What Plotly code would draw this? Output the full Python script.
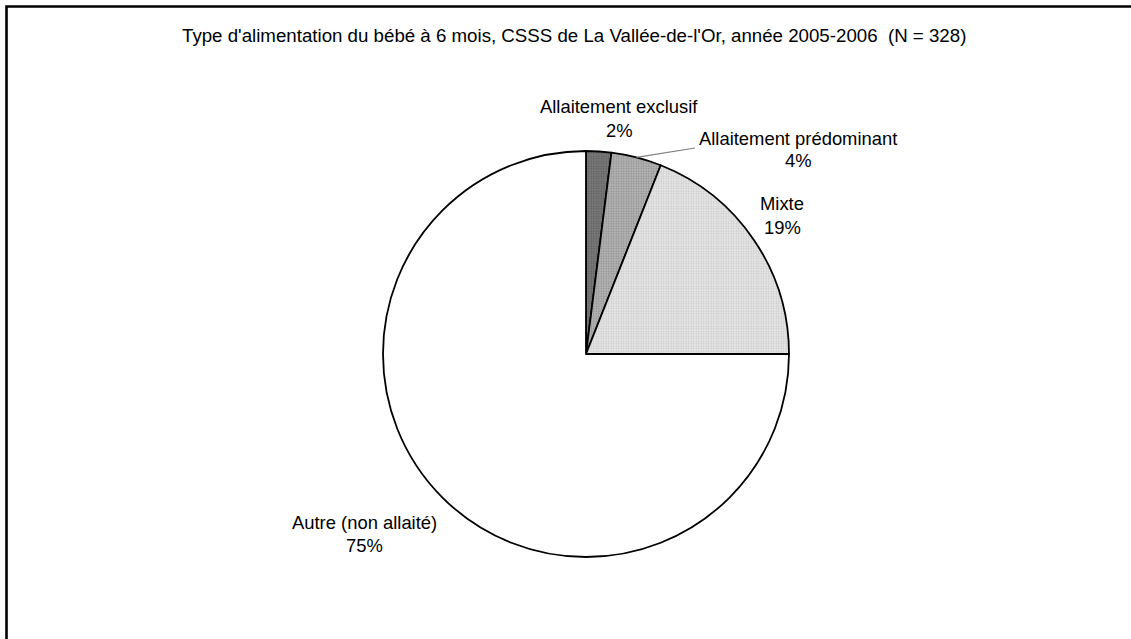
import math
import plotly.graph_objects as go

# ---- data ----
categories = ["Allaitement exclusif", "Allaitement prédominant", "Mixte", "Autre (non allaité)"]
percents = [2, 4, 19, 75]
title_text = "Type d'alimentation du bébé à 6 mois, CSSS de La Vallée-de-l'Or, année 2005-2006  (N = 328)"

# ---- styles ----
fill_colors = ["#7a7a7a", "#b4b4b4", "#e6e6e6", "#ffffff"]
fg_colors = ["#5a5a5a", "#8c8c8c", "#c6c6c6", "#ffffff"]

W, H = 1131, 639
FONT = "Liberation Sans, Arial, sans-serif"


def px(x):
    return x / W


def py(y):
    return 1 - y / H


# pie geometry (page pixels)
cx, cy, r = 586, 354, 203

fig = go.Figure()
fig.add_trace(go.Pie(
    labels=categories,
    values=percents,
    sort=False,
    direction="clockwise",
    rotation=0,
    textinfo="none",
    hoverinfo="label+percent",
    showlegend=False,
    marker=dict(
        colors=fill_colors,
        line=dict(color="#000000", width=1.8),
        pattern=dict(shape=[".", ".", ".", ""], size=2.5, solidity=0.3,
                     fgcolor=fg_colors, bgcolor=fill_colors, fillmode="replace"),
    ),
    domain=dict(x=[px(cx - r), px(cx + r)], y=[py(cy + r), py(cy - r)]),
))

# label positions (page pixels): (x centre, y of name line, y of percent line)
label_pos = [(619, 107, 130), (798, 138, 160), (782, 204, 227), (364, 522, 545)]
annotations = []
for name, pct, (lx, ly1, ly2) in zip(categories, percents, label_pos):
    for txt, yy in ((name, ly1), (f"{pct}%", ly2)):
        annotations.append(dict(
            x=px(lx), y=py(yy), xref="paper", yref="paper",
            text=txt, showarrow=False,
            font=dict(family=FONT, size=18.4, color="#000000"),
            xanchor="center", yanchor="middle",
        ))

annotations.append(dict(
    x=px(574), y=py(35), xref="paper", yref="paper",
    text=title_text, showarrow=False,
    font=dict(family=FONT, size=18.7, color="#000000"),
    xanchor="center", yanchor="middle",
))

# leader line for second slice, from its mid-angle on the rim
total = sum(percents)
mid_frac = (percents[0] + percents[1] / 2) / total
ang = 2 * math.pi * mid_frac
sx = cx + r * math.sin(ang)
sy = cy - r * math.cos(ang)

shapes = [
    dict(type="rect", xref="paper", yref="paper",
         x0=px(6.5), y0=-0.1, x1=1.1, y1=py(6.5),
         line=dict(color="#000000", width=2.6), fillcolor="rgba(0,0,0,0)"),
    dict(type="line", xref="paper", yref="paper",
         x0=px(sx), y0=py(sy), x1=px(695), y1=py(148),
         line=dict(color="#808080", width=1.2)),
]

fig.update_layout(
    width=W, height=H,
    margin=dict(l=0, r=0, t=0, b=0),
    paper_bgcolor="#ffffff",
    plot_bgcolor="#ffffff",
    annotations=annotations,
    shapes=shapes,
)

fig.write_html(
    "out.html",
    config={"displayModeBar": False},
    post_script="document.body.style.margin='0';document.body.style.overflow='hidden';",
)
